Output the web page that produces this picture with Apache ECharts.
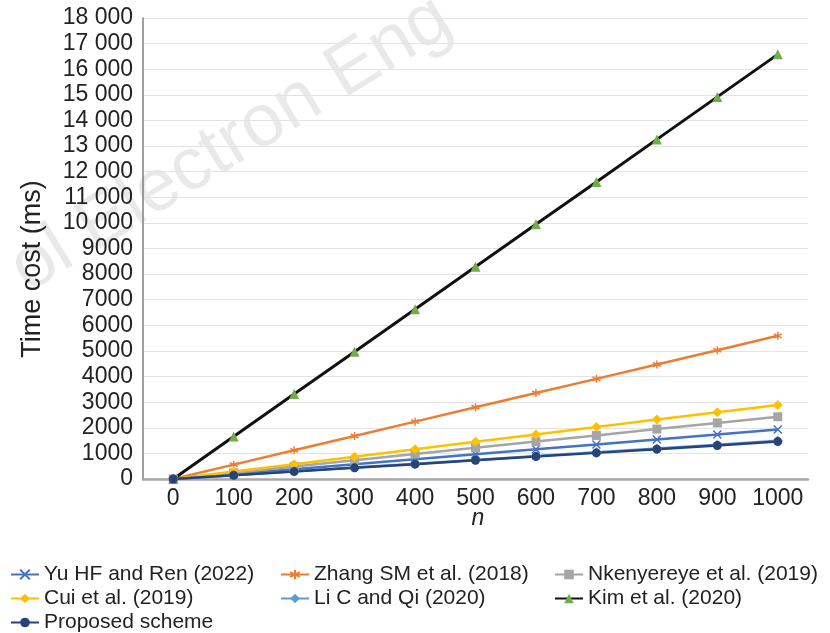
<!DOCTYPE html>
<html>
<head>
<meta charset="utf-8">
<script src="https://cdn.jsdelivr.net/npm/echarts@6/dist/echarts.min.js"></script>
<style>
  html, body { margin: 0; padding: 0; background: #fff; }
  #main { width: 830px; height: 633px; }
</style>
</head>
<body>
<div id="main"></div>
<script>
// x categories (n)
var nList = ['0', '100', '200', '300', '400', '500', '600', '700', '800', '900', '1000'];
// time cost (ms)
var yuHF = [0, 195, 385, 580, 770, 965, 1160, 1350, 1545, 1740, 1930];
var zhangSM = [0, 560, 1120, 1680, 2240, 2800, 3360, 3910, 4470, 5030, 5590];
var nkenyereye = [0, 245, 490, 730, 975, 1220, 1460, 1700, 1950, 2190, 2430];
var cui = [0, 290, 580, 870, 1160, 1450, 1740, 2030, 2320, 2610, 2890];
var liC = [0, 150, 300, 445, 595, 745, 895, 1040, 1190, 1340, 1490];
var kim = [0, 1660, 3320, 4970, 6630, 8290, 9950, 11600, 13260, 14920, 16580];
var proposed = [0, 145, 290, 435, 580, 730, 875, 1020, 1165, 1310, 1460];

var font = 'Liberation Sans';
var crossPath = 'path://M0,0L10,10M10,0L0,10';
var starPath = 'path://M5,0L5,10M0,2.5L10,7.5M10,2.5L0,7.5';

function mkSeries(name, data, color, symbol, size, lineColor, lw) {
  return {
    name: name,
    type: 'line',
    data: data,
    symbol: symbol,
    symbolSize: size,
    showSymbol: true,
    animation: false,
    itemStyle: { color: color, borderColor: color, borderWidth: (symbol.indexOf('path') == 0) ? 1.5 : 0 },
    lineStyle: { color: lineColor || color, width: lw || 2.5 }
  };
}

var chart = echarts.init(document.getElementById('main'));
var legendBase = {
  orient: 'vertical',
  top: 564,
  padding: 0,
  itemWidth: 28,
  itemHeight: 12,
  itemGap: 3,
  textStyle: { fontFamily: font, fontSize: 21, lineHeight: 21, color: '#222' }
};
var option = {
  backgroundColor: '#fff',
  textStyle: { fontFamily: font },
  graphic: [
    {
      type: 'text', x: -2, y: 244, rotation: Math.PI / 5.7,
      silent: true,
      style: { text: 'ol Electron Eng', fontFamily: font, fontSize: 74, fill: 'rgba(0,0,0,0.085)' }
    },
    {
      type: 'text', x: 33, y: 269, rotation: Math.PI / 2,
      style: { text: 'Time cost (ms)', fontFamily: font, fontSize: 27, fill: '#222', align: 'center', verticalAlign: 'middle' }
    },
    {
      type: 'text', x: 478, y: 519,
      style: { text: 'n', fontFamily: font, fontSize: 23, fontStyle: 'italic', fill: '#222', align: 'center', verticalAlign: 'middle' }
    }
  ],
  legend: [
    Object.assign({ left: 10, data: ['Yu HF and Ren (2022)', 'Cui et al. (2019)', 'Proposed scheme'] }, legendBase),
    Object.assign({ left: 280, data: ['Zhang SM et al. (2018)', 'Li C and Qi (2020)'] }, legendBase),
    Object.assign({ left: 554, data: ['Nkenyereye et al. (2019)', 'Kim et al. (2020)'] }, legendBase)
  ],
  grid: { left: 143, right: 22, top: 18, bottom: 154 },
  xAxis: {
    type: 'category',
    data: nList,
    boundaryGap: true,
    axisLine: { lineStyle: { color: '#a6a6a6', width: 2.5 } },
    axisTick: { show: false },
    axisLabel: { interval: 0, fontFamily: font, fontSize: 23, color: '#222', margin: 8 }
  },
  yAxis: {
    type: 'value',
    min: 0, max: 18000, interval: 1000,
    axisLine: { show: true, lineStyle: { color: '#7f7f7f', width: 1.5 } },
    axisTick: { show: false },
    splitLine: { lineStyle: { color: '#e3e3e3', width: 1.2 } },
    axisLabel: {
      fontFamily: font, fontSize: 23, color: '#222', margin: 10,
      formatter: function (v) {
        if (v >= 10000) {
          var s = String(v);
          return s.slice(0, s.length - 3) + ' ' + s.slice(-3);
        }
        return String(v);
      }
    }
  },
  series: [
    mkSeries('Yu HF and Ren (2022)', yuHF, '#4472c4', crossPath, 8),
    mkSeries('Zhang SM et al. (2018)', zhangSM, '#ed7d31', starPath, 8),
    mkSeries('Nkenyereye et al. (2019)', nkenyereye, '#a5a5a5', 'rect', 9),
    mkSeries('Cui et al. (2019)', cui, '#ffc000', 'diamond', 10),
    mkSeries('Li C and Qi (2020)', liC, '#5b9bd5', 'diamond', 10),
    mkSeries('Kim et al. (2020)', kim, '#70ad47', 'triangle', 10, '#111', 3),
    mkSeries('Proposed scheme', proposed, '#264478', 'circle', 9)
  ]
};
chart.setOption(option);
</script>
</body>
</html>
